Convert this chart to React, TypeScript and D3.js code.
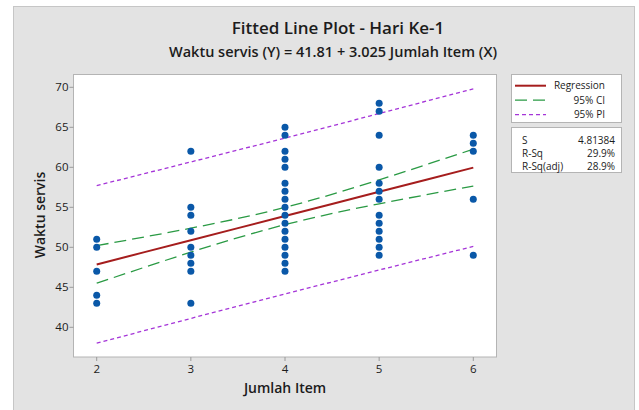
import React from "react";
import * as d3 from "d3";

const TITLE = "Fitted Line Plot - Hari Ke-1";
const SUBTITLE = "Waktu servis (Y) = 41.81 + 3.025 Jumlah Item (X)";
const X_LABEL = "Jumlah Item";
const Y_LABEL = "Waktu servis";

// Observed points (Jumlah Item, Waktu servis)
const jumlahItem = [
  2, 2, 2, 2, 2,
  3, 3, 3, 3, 3, 3, 3, 3, 3,
  4, 4, 4, 4, 4, 4, 4, 4, 4, 4, 4, 4, 4, 4, 4, 4, 4,
  5, 5, 5, 5, 5, 5, 5, 5, 5, 5, 5, 5, 5,
  6, 6, 6, 6, 6,
];
const waktuServis = [
  51, 50, 47, 44, 43,
  62, 55, 54, 52, 50, 49, 48, 47, 43,
  65, 64, 62, 61, 60, 58, 57, 56, 55, 54, 53, 52, 51, 50, 49, 48, 47,
  68, 67, 64, 60, 58, 57, 56, 54, 53, 52, 51, 50, 49,
  64, 63, 62, 56, 49,
];

// Fitted line and bands read at each x
const fitX = [2, 3, 4, 5, 6];
const fitY = [47.86, 50.885, 53.91, 56.935, 59.96];
const ciUpper = [50.21, 52.39, 54.99, 58.44, 62.26];
const ciLower = [45.51, 49.39, 52.83, 55.44, 57.66];
const piUpper = [57.71, 60.67, 63.66, 66.72, 69.81];
const piLower = [38.01, 41.11, 44.16, 47.16, 50.11];

const xTicks = [2, 3, 4, 5, 6];
const yTicks = [40, 45, 50, 55, 60, 65, 70];

const legendLabels = ["Regression", "95% CI", "95% PI"];
const statLabels = ["S", "R-Sq", "R-Sq(adj)"];
const statValues = ["4.81384", "29.9%", "28.9%"];

const FONT = "'Open Sans', 'Noto Sans', sans-serif";
const TEXT = "#1c1c1c";

export default function App() {
  const W = 639;
  const H = 410;
  const plot = { left: 73.5, right: 496.5, top: 74.5, bottom: 357 };

  const x = d3.scaleLinear().domain([2, 6]).range([96.7, 473.3]);
  const y = d3.scaleLinear().domain([40, 70]).range([327.3, 87.3]);

  const line = d3
    .line<number>()
    .x((_, i) => x(fitX[i]))
    .y((d) => y(d))
    .curve(d3.curveNatural);

  const regColor = "#a51d1d";
  const ciColor = "#2a9a44";
  const piColor = "#a535d8";
  const dotColor = "#0a58a8";

  const legendStyles = [
    { stroke: regColor, dash: undefined as string | undefined, width: 2 },
    { stroke: ciColor, dash: "12 6", width: 1.3 },
    { stroke: piColor, dash: "4 3", width: 1.3 },
  ];

  return (
    <div>
      <style>{`body{margin:0;}`}</style>
      <svg width={W} height={H} style={{ display: "block" }}>
        <rect x={0} y={0} width={W} height={H} fill="#ffffff" />
        <rect x={13.5} y={6.5} width={621} height={420} fill="#e3e3e3" stroke="#c6c6c6" />

        <text x={338} y={34} textAnchor="middle" fontFamily={FONT} fontSize={17} fontWeight={600} fill={TEXT}>
          {TITLE}
        </text>
        <text x={333} y={57} textAnchor="middle" fontFamily={FONT} fontSize={14.5} fontWeight={600} fill={TEXT}>
          {SUBTITLE}
        </text>

        <rect
          x={plot.left}
          y={plot.top}
          width={plot.right - plot.left}
          height={plot.bottom - plot.top}
          fill="#ffffff"
          stroke="#b4b4b4"
        />

        {/* y ticks */}
        {yTicks.map((t) => (
          <g key={"y" + t}>
            <line x1={plot.left - 4} x2={plot.left} y1={y(t)} y2={y(t)} stroke="#9a9a9a" />
            <text x={plot.left - 5} y={y(t) + 4} textAnchor="end" fontFamily={FONT} fontSize={11.5} fill={TEXT}>
              {t}
            </text>
          </g>
        ))}
        {/* x ticks */}
        {xTicks.map((t) => (
          <g key={"x" + t}>
            <line x1={x(t)} x2={x(t)} y1={plot.bottom} y2={plot.bottom + 4} stroke="#9a9a9a" />
            <text x={x(t)} y={plot.bottom + 16} textAnchor="middle" fontFamily={FONT} fontSize={11.5} fill={TEXT}>
              {t}
            </text>
          </g>
        ))}

        <text x={285} y={393} textAnchor="middle" fontFamily={FONT} fontSize={14} fontWeight={600} fill={TEXT}>
          {X_LABEL}
        </text>
        <text
          transform={`translate(45,215) rotate(-90)`}
          textAnchor="middle"
          fontFamily={FONT}
          fontSize={14}
          fontWeight={600}
          fill={TEXT}
        >
          {Y_LABEL}
        </text>

        {/* bands */}
        <path d={line(piUpper) || ""} fill="none" stroke={piColor} strokeWidth={1.3} strokeDasharray="4 3" />
        <path d={line(piLower) || ""} fill="none" stroke={piColor} strokeWidth={1.3} strokeDasharray="4 3" />
        <path d={line(ciUpper) || ""} fill="none" stroke={ciColor} strokeWidth={1.3} strokeDasharray="12 6" />
        <path d={line(ciLower) || ""} fill="none" stroke={ciColor} strokeWidth={1.3} strokeDasharray="12 6" />
        <path d={line(fitY) || ""} fill="none" stroke={regColor} strokeWidth={2} />

        {/* points */}
        {waktuServis.map((v, i) => (
          <circle key={"p" + i} cx={x(jumlahItem[i])} cy={y(v)} r={3.5} fill={dotColor} />
        ))}

        {/* legend */}
        <rect x={511.5} y={74.5} width={110} height={48} fill="#ffffff" stroke="#b4b4b4" />
        {legendLabels.map((lab, i) => {
          const ly = 85.7 + i * 14.5;
          const s = legendStyles[i];
          return (
            <g key={lab}>
              <line x1={515} x2={546} y1={ly} y2={ly} stroke={s.stroke} strokeWidth={s.width} strokeDasharray={s.dash} />
              <text x={605} y={ly + 3.5} textAnchor="end" fontFamily={FONT} fontSize={10} fill={TEXT}>
                {lab}
              </text>
            </g>
          );
        })}

        <rect x={511.5} y={127.5} width={110} height={45} fill="#ffffff" stroke="#b4b4b4" />
        {statLabels.map((lab, i) => {
          const ly = 140 + i * 13;
          return (
            <g key={lab}>
              <text x={522} y={ly + 3.5} fontFamily={FONT} fontSize={10} fill={TEXT}>
                {lab}
              </text>
              <text x={615} y={ly + 3.5} textAnchor="end" fontFamily={FONT} fontSize={10} fill={TEXT}>
                {statValues[i]}
              </text>
            </g>
          );
        })}
      </svg>
    </div>
  );
}
